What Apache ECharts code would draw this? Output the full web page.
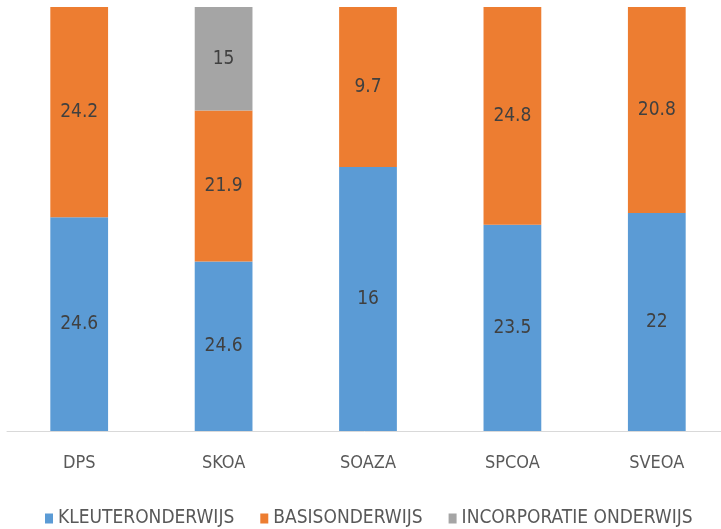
<!DOCTYPE html>
<html>
<head>
<meta charset="utf-8">
<script src="https://cdn.jsdelivr.net/npm/echarts@6/dist/echarts.min.js"></script>
<style>
html,body{margin:0;padding:0;background:#fff;}
#main{width:721px;height:529px;}
</style>
</head>
<body>
<div id="main"></div>
<script>
var categories = ['DPS', 'SKOA', 'SOAZA', 'SPCOA', 'SVEOA'];
var kleuter = [24.6, 24.6, 16, 23.5, 22];
var basis = [24.2, 21.9, 9.7, 24.8, 20.8];
var incorporatie = [0, 15, 0, 0, 0];

var totals = categories.map(function (c, i) {
    return kleuter[i] + basis[i] + incorporatie[i];
});

// 100% gestapeld, label toont de echte waarde
function pct(arr) {
    return arr.map(function (v, i) {
        return { value: v === 0 ? null : v / totals[i] * 100, raw: v };
    });
}

var fontFam = "'Liberation Sans Narrow', 'DejaVu Sans Condensed', sans-serif";
var labelStyle = {
    show: true,
    position: 'inside',
    color: '#404040',
    fontSize: 19,
    fontFamily: fontFam,
    formatter: function (p) { return p.data.raw; }
};

var myChart = echarts.init(document.getElementById('main'));
var option = {
    animation: false,
    color: ['#5B9BD5', '#ED7D31', '#A5A5A5'],
    grid: { left: 7, width: 722, top: 7, bottom: 98, outerBoundsMode: 'none', containLabel: false },
    legend: {
        top: 504,
        left: 40,
        itemWidth: 8,
        itemHeight: 10,
        itemGap: 26,
        icon: 'rect',
        textStyle: { color: '#595959', fontSize: 19, fontFamily: fontFam },
        data: ['KLEUTERONDERWIJS', 'BASISONDERWIJS', 'INCORPORATIE ONDERWIJS']
    },
    xAxis: {
        type: 'category',
        data: categories,
        axisLine: { lineStyle: { color: '#d9d9d9', width: 1 } },
        axisTick: { show: false },
        axisLabel: { color: '#595959', fontSize: 18, fontFamily: fontFam, margin: 23 }
    },
    yAxis: {
        type: 'value',
        min: 0,
        max: 100,
        show: false,
        splitLine: { show: false }
    },
    series: [
        { name: 'KLEUTERONDERWIJS', type: 'bar', stack: 'a', barWidth: '40%', data: pct(kleuter), label: labelStyle },
        { name: 'BASISONDERWIJS', type: 'bar', stack: 'a', data: pct(basis), label: labelStyle },
        { name: 'INCORPORATIE ONDERWIJS', type: 'bar', stack: 'a', data: pct(incorporatie), label: labelStyle }
    ]
};
myChart.setOption(option);
</script>
</body>
</html>
